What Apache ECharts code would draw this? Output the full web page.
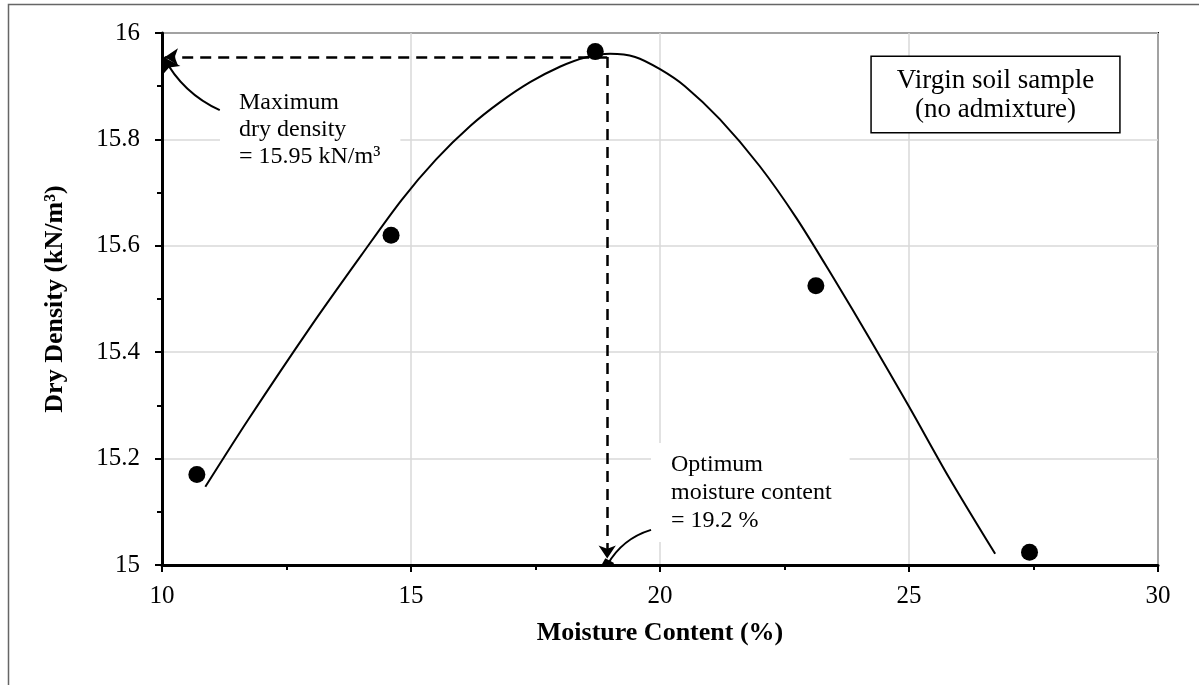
<!DOCTYPE html>
<html>
<head>
<meta charset="utf-8">
<script src="https://cdn.jsdelivr.net/npm/echarts@6/dist/echarts.min.js"></script>
<style>
  html, body { margin: 0; padding: 0; background: #fff; }
  #chart { width: 1199px; height: 685px; }
</style>
</head>
<body>
<div id="chart"></div>
<script>
// measured points (moisture %, dry density kN/m3)
const moisture = [10.7, 14.6, 18.7, 23.13, 27.42]
const dryDensity = [15.17, 15.62, 15.965, 15.525, 15.024]

// trend curve
const curveX = [10.87, 11.73, 13.0, 14.0, 14.81, 15.5, 16.2, 16.79, 17.4, 18.0, 18.5, 19.0, 19.5, 20.0, 20.5, 21.2, 22.0, 22.74, 23.5, 24.22, 25.0, 25.8, 26.73]
const curveY = [15.147, 15.273, 15.45, 15.582, 15.686, 15.762, 15.826, 15.870, 15.908, 15.937, 15.954, 15.961, 15.955, 15.932, 15.900, 15.838, 15.750, 15.652, 15.537, 15.424, 15.298, 15.165, 15.021]

// annotation anchors (data coords)
const maxDensity = 15.955
const optMoisture = 18.94
const maxArrowFrom = [11.16, 15.855]
const optArrowFrom = [19.82, 15.066]

const maxText = 'Maximum\ndry density\n= 15.95 kN/m\u00b3'
const optText = 'Optimum\nmoisture content\n= 19.2 %'
const boxText = 'Virgin soil sample\n(no admixture)'

const FONT = '"Liberation Serif", "Times New Roman", serif'

const chart = echarts.init(document.getElementById('chart'))

const points = moisture.map((x, i) => [x, dryDensity[i]])
const curve = curveX.map((x, i) => [x, curveY[i]])

const axisCommon = {
  type: 'value',
  nameLocation: 'middle',
  nameTextStyle: { fontFamily: FONT, fontSize: 26, fontWeight: 'bold', color: '#000' },
  axisLine: { show: true, lineStyle: { color: '#000', width: 3 } },
  axisTick: { show: true, inside: false, length: 7, lineStyle: { color: '#000', width: 2 } },
  minorTick: { show: true, splitNumber: 2, length: 5, lineStyle: { color: '#000', width: 2 } },
  splitLine: { show: true, lineStyle: { color: '#d9d9d9', width: 1.5 } },
  axisLabel: { fontFamily: FONT, fontSize: 25, color: '#000' },
}

// curved pointer from a label to its marker
function pointer(from, to, curveness, endSymbol, size) {
  return {
    type: 'lines',
    coordinateSystem: 'cartesian2d',
    silent: true,
    z: 3,
    symbol: ['none', endSymbol],
    symbolSize: size,
    lineStyle: { color: '#000', width: 2, opacity: 1, curveness: curveness },
    data: [{ coords: [from, to] }],
  }
}

const option = {
  animation: false,
  backgroundColor: '#fff',
  grid: {
    left: 162, right: 41, top: 33, bottom: 120,
    containLabel: false,
    outerBoundsMode: 'none',
    show: true, borderColor: '#000', borderWidth: 2,
  },
  xAxis: {
    ...axisCommon,
    min: 10, max: 30, interval: 5,
    name: 'Moisture Content (%)',
    nameGap: 55,
    axisLabel: { ...axisCommon.axisLabel, margin: 19 },
  },
  yAxis: {
    ...axisCommon,
    min: 15, max: 16, interval: 0.2,
    name: 'Dry Density (kN/m\u00b3)',
    nameGap: 94,
    axisLabel: { ...axisCommon.axisLabel, margin: 22 },
  },
  graphic: {
    elements: [
      // outer frame
      {
        type: 'rect', left: 6, top: 2, z: 0, silent: true,
        shape: { width: 1260, height: 760 },
        style: { fill: null, stroke: '#666', lineWidth: 1.5 },
      },
      {
        type: 'text', x: 220, y: 89, z: 1, silent: true,
        style: {
          text: maxText, font: '24px ' + FONT, fill: '#000', lineHeight: 27,
          backgroundColor: '#fff', padding: [0, 20, 2, 19],
        },
      },
      {
        type: 'text', x: 651, y: 443, z: 1, silent: true,
        style: {
          text: optText, font: '24px ' + FONT, fill: '#000', lineHeight: 28,
          backgroundColor: '#fff', padding: [8, 18, 7, 20],
        },
      },
      {
        type: 'text', x: 995.5, y: 57, z: 5, silent: true,
        style: {
          text: boxText, font: '27px ' + FONT, fill: '#000', lineHeight: 29,
          align: 'center', verticalAlign: 'top',
          backgroundColor: '#fff', borderColor: '#000', borderWidth: 1.5,
          padding: [9, 25, 8, 25],
        },
      },
    ],
  },
  series: [
    {
      name: 'trend',
      type: 'line',
      data: curve,
      smooth: 0.3,
      showSymbol: false,
      silent: true,
      lineStyle: { color: '#000', width: 2 },
      z: 2,
    },
    {
      name: 'guides',
      type: 'line',
      data: [],
      silent: true,
      z: 3,
      markLine: {
        silent: true,
        animation: false,
        label: { show: false },
        emphasis: { disabled: true },
        lineStyle: { color: '#000', width: 2.5, type: [11, 7] },
        symbol: ['none', 'arrow'],
        symbolSize: 13,
        data: [
          [{ coord: [optMoisture, maxDensity] }, { coord: [10.06, maxDensity] }],
          [{ coord: [optMoisture, maxDensity] }, { coord: [optMoisture, 15.012] }],
        ],
      },
    },
    pointer(maxArrowFrom, [10.03, maxDensity], 0.17, 'arrow', 16),
    pointer(optArrowFrom, [optMoisture, 15.0], -0.2, 'rect', 10),
    {
      name: 'measured',
      type: 'scatter',
      data: points,
      symbol: 'circle',
      symbolSize: 17,
      itemStyle: { color: '#000', opacity: 1 },
      silent: true,
      z: 4,
    },
  ],
}

chart.setOption(option)
</script>
</body>
</html>
